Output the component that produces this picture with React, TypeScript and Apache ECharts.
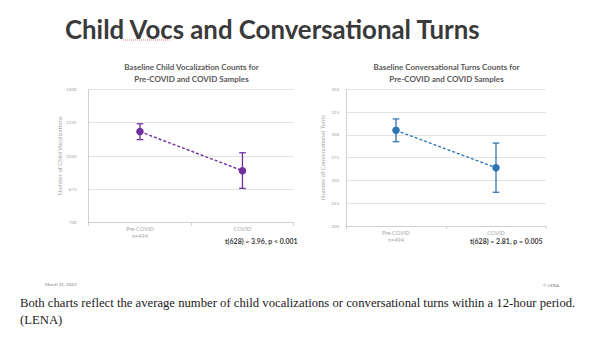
import React, { useEffect, useRef } from "react";
import * as echarts from "echarts";

const categories = ["Pre-COVID\nn=494", "COVID"];
const vocMeans = [1178, 973];
const vocLow = [1136, 880];
const vocHigh = [1219, 1067];
const turnMeans = [305, 264];
const turnLow = [292.5, 237];
const turnHigh = [317.5, 291];

const vocAxis = { min: 700, max: 1400, interval: 175 };
const turnAxis = { min: 200, max: 350, interval: 25 };

const mainTitle = "Child Vocs and Conversational Turns";
const vocTitle = "Baseline Child Vocalization Counts for\nPre-COVID and COVID Samples";
const turnTitle = "Baseline Conversational Turns Counts for\nPre-COVID and COVID Samples";
const vocYName = "Number of Child Vocalizations";
const turnYName = "Number of Conversational Turns";
const vocStat = "t(628) = 3.96, p < 0.001";
const turnStat = "t(628) = 2.81, p = 0.005";
const dateText = "March 31, 2022";
const copyText = "© LENA";
const caption =
  "Both charts reflect the average number of child vocalizations or conversational turns within a 12-hour period.\n(LENA)";

const PURPLE = "#7030A0";
const BLUE = "#2E75B6";
const GRID = "#e3e3e3";
const AXIS = "#d0d0d0";
const LABEL = "#a6a6a6";
const SANS = "Lato, 'Open Sans', sans-serif";

const errItem = (color: string) => (params: any, api: any) => {
  const x = api.value(0);
  const lo = api.coord([x, api.value(1)]);
  const hi = api.coord([x, api.value(2)]);
  const w = 3.3;
  const st = { stroke: color, lineWidth: 1.3 };
  return {
    type: "group",
    children: [
      { type: "line", shape: { x1: lo[0], y1: lo[1], x2: hi[0], y2: hi[1] }, style: st },
      { type: "line", shape: { x1: lo[0] - w, y1: lo[1], x2: lo[0] + w, y2: lo[1] }, style: st },
      { type: "line", shape: { x1: hi[0] - w, y1: hi[1], x2: hi[0] + w, y2: hi[1] }, style: st },
    ],
  };
};

const xAxisBase = (gridIndex: number) => ({
  type: "category",
  gridIndex,
  data: categories,
  boundaryGap: true,
  axisLine: { lineStyle: { color: AXIS, width: 1 } },
  axisTick: { show: true, length: 3, lineStyle: { color: AXIS } },
  axisLabel: { color: LABEL, fontSize: 5.5, lineHeight: 7, margin: 3, fontFamily: SANS },
  splitLine: { show: false },
});

const yAxisBase = (gridIndex: number, ax: any, name: string, nameGap: number, labelMargin: number) => ({
  type: "value",
  gridIndex,
  min: ax.min,
  max: ax.max,
  interval: ax.interval,
  name,
  nameLocation: "middle",
  nameGap,
  nameTextStyle: { color: LABEL, fontSize: 6, fontFamily: SANS },
  axisLine: { show: true, lineStyle: { color: AXIS } },
  axisTick: { show: false },
  axisLabel: {
    color: LABEL,
    fontSize: 4.5,
    margin: labelMargin,
    fontFamily: SANS,
    formatter: (v: number) => String(v),
  },
  splitLine: { lineStyle: { color: GRID, width: 1.2 } },
});

export default function App() {
  const ref = useRef<HTMLDivElement>(null);
  useEffect(() => {
    if (!ref.current) return;
    const chart = echarts.init(ref.current, undefined, { renderer: "svg" });
    chart.setOption({
      animation: false,
      backgroundColor: "#ffffff",
      grid: [
        { left: 88.7, top: 89.3, width: 205, height: 133.4 },
        { left: 346, top: 89.3, width: 200, height: 136.7 },
      ],
      xAxis: [xAxisBase(0), xAxisBase(1)],
      yAxis: [
        yAxisBase(0, vocAxis, vocYName, 21, 12),
        yAxisBase(1, turnAxis, turnYName, 21, 7),
      ],
      series: [
        {
          type: "line",
          xAxisIndex: 0,
          yAxisIndex: 0,
          data: vocMeans,
          symbol: "circle",
          symbolSize: 7.5,
          itemStyle: { color: PURPLE },
          lineStyle: { color: PURPLE, width: 1.4, type: [3, 2] },
          z: 3,
        },
        {
          type: "custom",
          xAxisIndex: 0,
          yAxisIndex: 0,
          renderItem: errItem(PURPLE),
          encode: { x: 0, y: [1, 2] },
          data: categories.map((_, i) => [i, vocLow[i], vocHigh[i]]),
          z: 2,
        },
        {
          type: "line",
          xAxisIndex: 1,
          yAxisIndex: 1,
          data: turnMeans,
          symbol: "circle",
          symbolSize: 7.5,
          itemStyle: { color: BLUE },
          lineStyle: { color: BLUE, width: 1.4, type: [3, 2] },
          z: 3,
        },
        {
          type: "custom",
          xAxisIndex: 1,
          yAxisIndex: 1,
          renderItem: errItem(BLUE),
          encode: { x: 0, y: [1, 2] },
          data: categories.map((_, i) => [i, turnLow[i], turnHigh[i]]),
          z: 2,
        },
      ],
      graphic: [
        {
          type: "text",
          x: 65,
          y: 29,
          style: {
            text: mainTitle,
            fontSize: 25.8,
            fontWeight: "bold",
            fontFamily: SANS,
            fill: "#3a3a3a",
            textAlign: "left",
            textVerticalAlign: "middle",
          },
        },
        {
          type: "line",
          shape: { x1: 123, y1: 40, x2: 171, y2: 40 },
          style: { stroke: "#e06060", lineWidth: 0.8, lineDash: [1, 1] },
        },
        {
          type: "text",
          x: 191.5,
          y: 72.5,
          style: {
            text: vocTitle,
            fontSize: 8,
            fontWeight: "bold",
            fontFamily: SANS,
            fill: "#595959",
            lineHeight: 12,
            textAlign: "center",
            textVerticalAlign: "middle",
          },
        },
        {
          type: "text",
          x: 446.5,
          y: 72.5,
          style: {
            text: turnTitle,
            fontSize: 8,
            fontWeight: "bold",
            fontFamily: SANS,
            fill: "#595959",
            lineHeight: 12,
            textAlign: "center",
            textVerticalAlign: "middle",
          },
        },
        {
          type: "text",
          x: 225,
          y: 240.5,
          style: {
            text: vocStat,
            fontSize: 7,
            fontWeight: "bold",
            fontFamily: SANS,
            fill: "#404040",
            textAlign: "left",
            textVerticalAlign: "middle",
          },
        },
        {
          type: "text",
          x: 470,
          y: 240.5,
          style: {
            text: turnStat,
            fontSize: 7,
            fontWeight: "bold",
            fontFamily: SANS,
            fill: "#404040",
            textAlign: "left",
            textVerticalAlign: "middle",
          },
        },
        {
          type: "text",
          x: 45,
          y: 284,
          style: {
            text: dateText,
            fontSize: 4.5,
            fontFamily: SANS,
            fill: "#7f7f7f",
            textAlign: "left",
            textVerticalAlign: "middle",
          },
        },
        {
          type: "text",
          x: 543,
          y: 285,
          style: {
            text: copyText,
            fontSize: 4.5,
            fontFamily: SANS,
            fill: "#7f7f7f",
            textAlign: "left",
            textVerticalAlign: "middle",
          },
        },
        {
          type: "text",
          x: 20,
          y: 311.5,
          style: {
            text: caption,
            fontSize: 12.7,
            fontFamily: "'Liberation Serif', 'DejaVu Serif', serif",
            fill: "#222222",
            lineHeight: 17,
            textAlign: "left",
            textVerticalAlign: "middle",
          },
        },
      ],
    });
    return () => chart.dispose();
  }, []);
  return (
    <div
      ref={ref}
      style={{ position: "fixed", left: 0, top: 0, width: 600, height: 351 }}
    />
  );
}
